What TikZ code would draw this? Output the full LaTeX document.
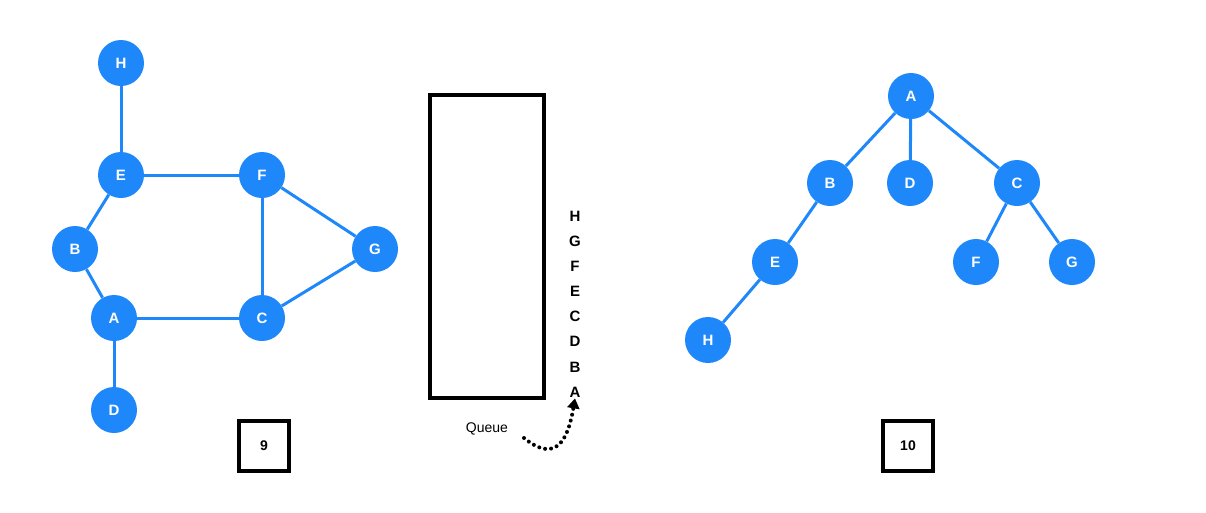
\documentclass[tikz,border=0pt]{standalone}
\usepackage{fontspec}
\setmainfont{Liberation Sans}
\usetikzlibrary{arrows.meta,positioning}
\definecolor{gblue}{RGB}{30,136,250}
\tikzset{
  vnode/.style={circle, fill=gblue, inner sep=0pt, minimum size=46pt, text=white, font=\fontsize{15}{17}\selectfont\bfseries},
  gedge/.style={gblue, line width=3pt},
  tagbox/.style={draw, line width=3.5pt, minimum size=50pt, font=\fontsize{14}{16}\selectfont\bfseries},
  qlab/.style={font=\fontsize{15}{17}\selectfont\bfseries, inner sep=1pt},
  darr/.style={line width=4pt, line cap=round, dash pattern=on 0pt off 6pt, -{Triangle[length=10pt,width=12pt]}},
}
\begin{document}
\begin{tikzpicture}[x=1pt, y=-1pt]
  \useasboundingbox (0,0) rectangle (1206,512);
  % graph
  \node[vnode] (h) at (121,63) {H};
  \node[vnode] (e) at (121,175) {E};
  \node[vnode] (f) at (262,175) {F};
  \node[vnode] (b) at (75,249) {B};
  \node[vnode] (g) at (375,249) {G};
  \node[vnode] (a) at (114,318) {A};
  \node[vnode] (c) at (262,318) {C};
  \node[vnode] (d) at (114,410) {D};
  \draw[gedge] (h) -- (e);
  \draw[gedge] (e) -- (f);
  \draw[gedge] (e) -- (b);
  \draw[gedge] (b) -- (a);
  \draw[gedge] (a) -- (c);
  \draw[gedge] (a) -- (d);
  \draw[gedge] (f) -- (c);
  \draw[gedge] (f) -- (g);
  \draw[gedge] (g) -- (c);
  \node[tagbox] (n9) at (264,446) {9};
  % queue
  \node[draw, line width=3.5pt, minimum width=114pt, minimum height=303pt] (queue) at (487,246.5) {};
  \node[qlab] (qh) at (575,216) {H};
  \node[qlab] (qg) at (575,241) {G};
  \node[qlab] (qf) at (575,266) {F};
  \node[qlab] (qe) at (575,291) {E};
  \node[qlab] (qc) at (575,316) {C};
  \node[qlab] (qd) at (575,341) {D};
  \node[qlab] (qb) at (575,367) {B};
  \node[qlab] (qa) at (575,392) {A};
  \node[font=\fontsize{14}{16}\selectfont] (qtext) at (487,429) {Queue};
  \coordinate (qs) at (524,438);
  \draw[darr] (qs) .. controls (556,464) and (568,440) .. (qa.south);
  % tree
  \node[vnode] (ta) at (911,96) {A};
  \node[vnode] (tb) at (830,183) {B};
  \node[vnode] (td) at (910,183) {D};
  \node[vnode] (tc) at (1017,183) {C};
  \node[vnode] (te) at (775,262) {E};
  \node[vnode] (tf) at (976,262) {F};
  \node[vnode] (tg) at (1072,262) {G};
  \node[vnode] (th) at (708,340) {H};
  \draw[gedge] (ta) -- (tb);
  \draw[gedge] (ta) -- (td);
  \draw[gedge] (ta) -- (tc);
  \draw[gedge] (tb) -- (te);
  \draw[gedge] (te) -- (th);
  \draw[gedge] (tc) -- (tf);
  \draw[gedge] (tc) -- (tg);
  \node[tagbox] (n10) at (908,446) {10};
\end{tikzpicture}
\end{document}
